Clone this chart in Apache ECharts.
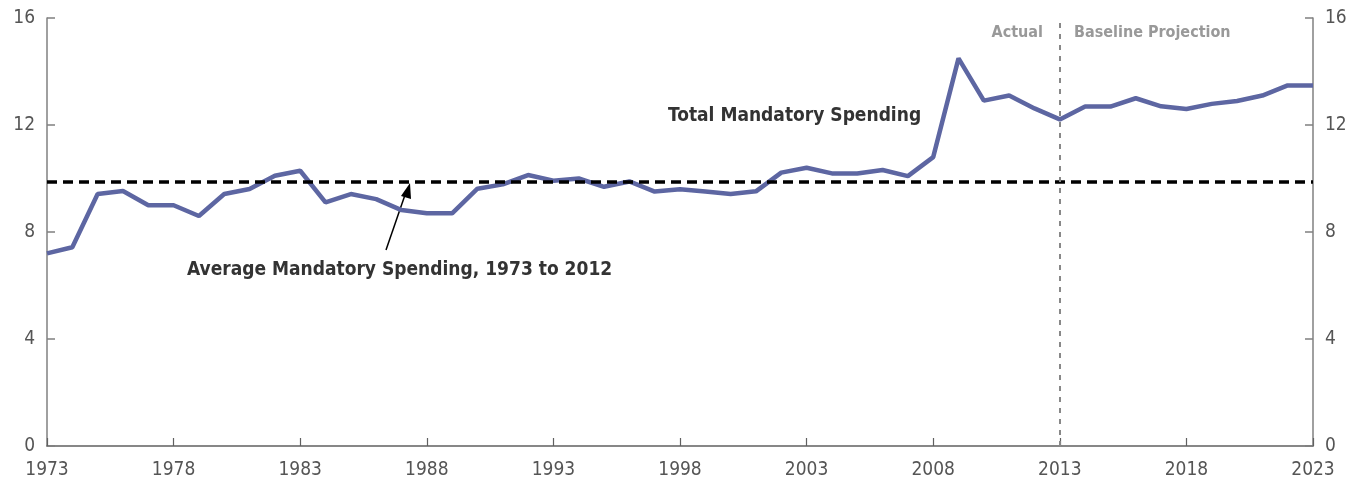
<!DOCTYPE html>
<html><head><meta charset="utf-8">
<script src="https://cdn.jsdelivr.net/npm/echarts@6/dist/echarts.min.js"></script>
<style>html,body{margin:0;padding:0;background:#fff}#c{width:1359px;height:486px}</style>
</head><body><div id="c"></div>
<script>
const years = [];
for (let y = 1973; y <= 2023; y++) years.push(String(y));
const mandatory = [
  7.20, 7.43, 9.42, 9.53, 9.00, 9.00, 8.60, 9.42, 9.61, 10.10,
  10.29, 9.11, 9.42, 9.23, 8.82, 8.70, 8.70, 9.62, 9.78, 10.13,
  9.92, 10.00, 9.69, 9.89, 9.51, 9.60, 9.51, 9.42, 9.52, 10.22,
  10.40, 10.19, 10.19, 10.32, 10.09, 10.80, 14.49, 12.91, 13.10, 12.62,
  12.21, 12.69, 12.69, 13.00, 12.70, 12.60, 12.79, 12.90, 13.10, 13.48,
  13.48
];
const averageValue = 9.88;
const splitYear = '2013';
const yTicks = [0, 4, 8, 12, 16];

const FONT = "'Liberation Sans Narrow','DejaVu Sans Condensed','Roboto Condensed',sans-serif";
const chart = echarts.init(document.getElementById('c'), null, {renderer: 'canvas'});
const yAxisCommon = {
  type: 'value', min: 0, max: 16, interval: 4,
  axisLine: {show: true, lineStyle: {color: '#808080', width: 1.5}},
  axisTick: {show: true, inside: true, length: 8, lineStyle: {color: '#808080', width: 1.5}},
  splitLine: {show: false},
  axisLabel: {color: '#555', fontFamily: FONT, fontSize: 19, margin: 12}
};
chart.setOption({
  animation: false,
  grid: {left: 47, right: 46, top: 18, bottom: 40, containLabel: false},
  xAxis: {
    type: 'category', data: years, boundaryGap: false,
    axisLine: {lineStyle: {color: '#606060', width: 1.5}},
    axisTick: {inside: true, length: 8, interval: 4, alignWithLabel: true, lineStyle: {color: '#606060', width: 1.2}},
    axisLabel: {interval: 4, color: '#555', fontFamily: FONT, fontSize: 19, margin: 15}
  },
  yAxis: [
    Object.assign({position: 'left'}, yAxisCommon),
    Object.assign({position: 'right'}, yAxisCommon)
  ],
  series: [{
    type: 'line', data: mandatory, symbol: 'none',
    lineStyle: {color: '#5d66a2', width: 4.5},
    z: 3,
    markLine: {
      silent: true, symbol: 'none',
      label: {show: false},
      data: [
        {yAxis: averageValue, lineStyle: {color: '#000', width: 3.5, type: [10, 6]}},
        {xAxis: splitYear, lineStyle: {color: '#888', width: 2, type: [5, 6]}}
      ]
    }
  }],
  graphic: [
    {type: 'text', left: 668, top: 107, style: {text: 'Total Mandatory Spending', fontFamily: FONT, fontWeight: 'bold', fontSize: 19, fill: '#333'}},
    {type: 'text', left: 187, top: 261, style: {text: 'Average Mandatory Spending, 1973 to 2012', fontFamily: FONT, fontWeight: 'bold', fontSize: 19, fill: '#333'}},
    {type: 'text', right: 1359 - 1043, top: 25, style: {text: 'Actual', fontFamily: FONT, fontWeight: 'bold', fontSize: 16, fill: '#999'}},
    {type: 'text', left: 1074, top: 25, style: {text: 'Baseline Projection', fontFamily: FONT, fontWeight: 'bold', fontSize: 16, fill: '#999'}},
    {type: 'line', shape: {x1: 386, y1: 250, x2: 406, y2: 192}, style: {stroke: '#000', lineWidth: 1.5}},
    {type: 'polygon', shape: {points: [[410, 183], [401, 196], [411, 199]]}, style: {fill: '#000'}}
  ]
});
</script></body></html>
